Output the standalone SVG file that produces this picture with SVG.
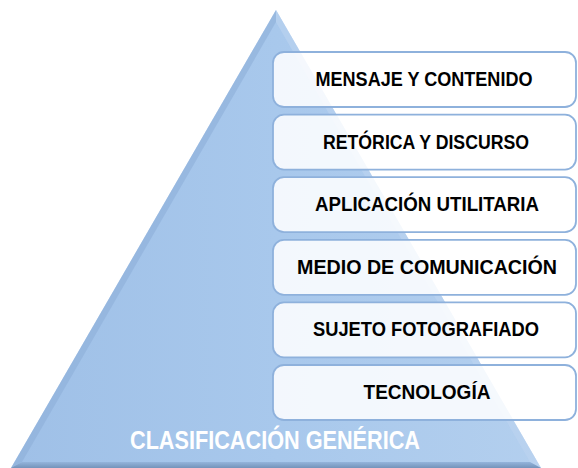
<svg xmlns="http://www.w3.org/2000/svg" width="578" height="468" viewBox="0 0 578 468">
<defs>
<linearGradient id="tri" x1="0" y1="0" x2="1" y2="0">
<stop offset="0" stop-color="#9fc0e7"/>
<stop offset="0.5" stop-color="#a8c8ec"/>
<stop offset="1" stop-color="#b3cfee"/>
</linearGradient>
<linearGradient id="band" x1="0" y1="0" x2="0" y2="1">
<stop offset="0" stop-color="#94b4db"/>
<stop offset="1" stop-color="#7493ba"/>
</linearGradient>
<style>
.box{fill:#ffffff;fill-opacity:0.86;stroke:#8eb1dc;stroke-width:1.8}
.lbl{font-family:"Liberation Sans",Arial,sans-serif;font-weight:bold;font-size:20px;fill:#000000;text-anchor:middle}
.base{font-family:"Liberation Sans",Arial,sans-serif;font-weight:bold;font-size:26px;fill:#ffffff;text-anchor:middle}
</style>
</defs>
<g id="pyramid">
<polygon points="276,10 11,468 541,468" fill="url(#tri)"/>
<polygon points="276,10 541,468 530,462 276,22" fill="#bcd4f0" opacity="0.6"/>
<polygon points="276,10 11,468 22,462 276,22" fill="#8eafd8" opacity="0.6"/>
<polygon points="22,462 530,462 541,468 11,468" fill="url(#band)"/>
<text class="base" x="275" y="449" textLength="290" lengthAdjust="spacingAndGlyphs">CLASIFICACIÓN GENÉRICA</text>
</g>
<g id="n1"><rect class="box" x="273" y="52" width="303" height="55" rx="11"/><text class="lbl" x="424" y="86" textLength="217" lengthAdjust="spacingAndGlyphs">MENSAJE Y CONTENIDO</text></g>
<g id="n2"><rect class="box" x="273" y="114.6" width="303" height="55" rx="11"/><text class="lbl" x="426" y="148.6" textLength="206" lengthAdjust="spacingAndGlyphs">RETÓRICA Y DISCURSO</text></g>
<g id="n3"><rect class="box" x="273" y="177.2" width="303" height="55" rx="11"/><text class="lbl" x="427" y="211.2" textLength="224" lengthAdjust="spacingAndGlyphs">APLICACIÓN UTILITARIA</text></g>
<g id="n4"><rect class="box" x="273" y="239.8" width="303" height="55" rx="11"/><text class="lbl" x="427" y="273.8" textLength="260" lengthAdjust="spacingAndGlyphs">MEDIO DE COMUNICACIÓN</text></g>
<g id="n5"><rect class="box" x="273" y="302.4" width="303" height="55" rx="11"/><text class="lbl" x="426" y="336.4" textLength="226" lengthAdjust="spacingAndGlyphs">SUJETO FOTOGRAFIADO</text></g>
<g id="n6"><rect class="box" x="273" y="365" width="303" height="55" rx="11"/><text class="lbl" x="427" y="399" textLength="127" lengthAdjust="spacingAndGlyphs">TECNOLOGÍA</text></g>
<g id="connectors"/>
</svg>
